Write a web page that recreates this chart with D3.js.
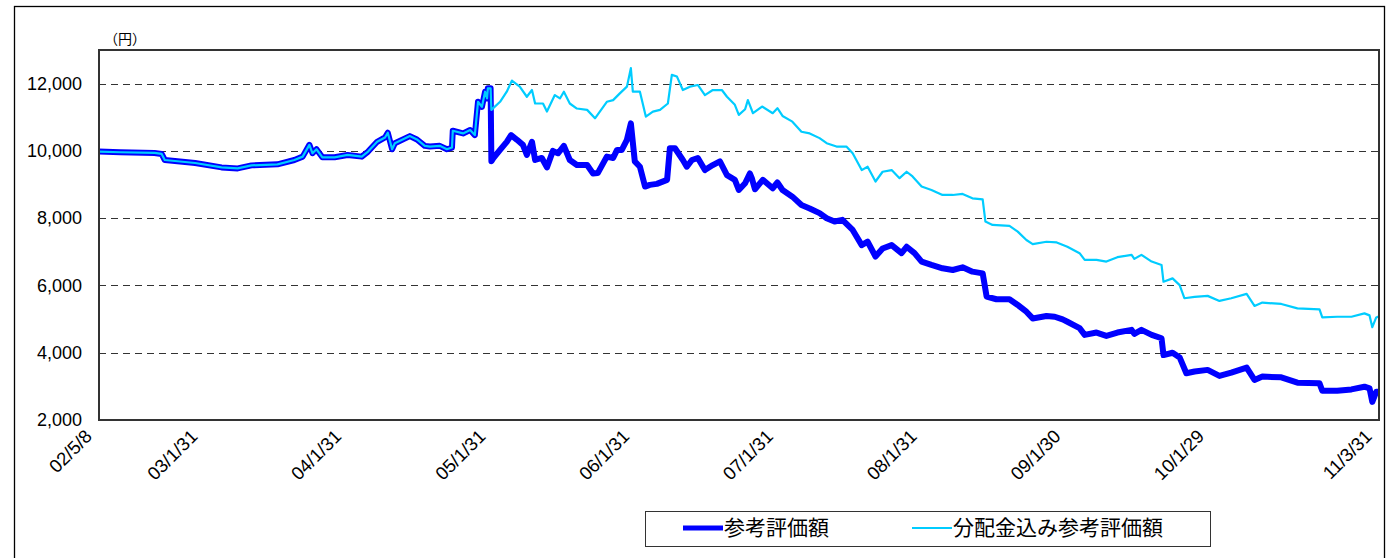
<!DOCTYPE html>
<html>
<head>
<meta charset="utf-8">
<script src="https://cdn.jsdelivr.net/npm/d3@7"></script>
<style>
  body { margin: 0; background: #fff; }
  svg { display: block; }
</style>
</head>
<body>
<div id="chart"></div>
<script>
// common part, both series identical until the first distribution (end of Jan 2005)
const sharedDates = ["2002-05-08","2002-07-01","2002-09-26","2002-10-14","2002-10-22","2003-01-07","2003-03-15","2003-04-25","2003-05-30","2003-08-04","2003-09-16","2003-10-07","2003-10-24","2003-11-01","2003-11-11","2003-11-26","2003-12-27","2004-01-29","2004-03-05","2004-03-21","2004-04-13","2004-05-03","2004-05-10","2004-05-21","2004-05-28","2004-07-05","2004-07-23","2004-08-12","2004-08-25","2004-09-19","2004-10-07","2004-10-20","2004-10-22","2004-11-17","2004-12-05","2004-12-17","2004-12-25","2005-01-04","2005-01-12","2005-01-17","2005-01-19","2005-01-26"];
const sharedValues = [9980,9960,9940,9910,9730,9640,9510,9480,9570,9600,9730,9830,10180,9930,10050,9810,9810,9880,9830,9980,10270,10400,10540,10050,10230,10440,10340,10150,10130,10150,10050,10100,10600,10520,10620,10470,11460,11310,11760,11560,11860,11860];

// 参考評価額
const navDates = ["2005-01-28","2005-02-01","2005-02-19","2005-03-08","2005-03-19","2005-04-03","2005-04-18","2005-04-28","2005-05-11","2005-05-19","2005-06-05","2005-06-18","2005-07-03","2005-07-16","2005-07-31","2005-08-15","2005-09-02","2005-09-28","2005-10-13","2005-10-25","2005-11-17","2005-12-03","2005-12-13","2005-12-25","2006-01-07","2006-01-17","2006-01-27","2006-02-09","2006-02-22","2006-03-06","2006-03-24","2006-04-19","2006-04-26","2006-05-09","2006-05-29","2006-06-08","2006-06-21","2006-07-06","2006-07-24","2006-08-13","2006-08-31","2006-09-18","2006-10-08","2006-10-18","2006-11-03","2006-11-15","2006-11-20","2006-11-28","2006-12-18","2007-01-12","2007-01-24","2007-02-06","2007-03-03","2007-03-26","2007-04-16","2007-05-11","2007-05-29","2007-06-18","2007-07-08","2007-08-03","2007-08-26","2007-09-10","2007-09-30","2007-10-18","2007-11-10","2007-12-05","2007-12-18","2008-01-07","2008-01-25","2008-02-19","2008-03-18","2008-04-13","2008-05-08","2008-06-02","2008-06-28","2008-07-08","2008-08-02","2008-09-04","2008-09-25","2008-10-17","2008-11-02","2008-12-07","2008-12-28","2009-01-17","2009-01-29","2009-03-01","2009-03-14","2009-04-13","2009-05-08","2009-06-05","2009-07-11","2009-07-18","2009-08-05","2009-08-31","2009-09-25","2009-09-30","2009-10-23","2009-11-10","2009-11-27","2009-12-18","2010-01-20","2010-02-19","2010-03-21","2010-04-29","2010-05-19","2010-06-08","2010-07-26","2010-09-05","2010-10-31","2010-11-07","2010-12-15","2011-01-20","2011-02-22","2011-03-07","2011-03-14","2011-03-24","2011-03-31"];
const navValues = [9690,9770,10030,10270,10470,10330,10180,9880,10270,9730,9790,9510,10000,9930,10150,9730,9580,9580,9330,9340,9830,9790,10030,10030,10330,10820,9690,9530,8940,8990,9020,9140,10080,10080,9730,9530,9730,9790,9430,9580,9690,9280,9140,8840,9040,9330,9190,8860,9140,8890,9060,8840,8640,8390,8290,8150,8000,7900,7950,7650,7200,7300,6860,7100,7200,6960,7150,6960,6710,6610,6510,6460,6540,6410,6360,5670,5590,5590,5420,5220,5020,5090,5070,4990,4920,4730,4530,4600,4500,4600,4680,4560,4680,4530,4430,3930,4000,3860,3390,3440,3490,3310,3410,3560,3190,3290,3270,3110,3090,2870,2870,2910,2990,2940,2540,2840,2840];

// 分配金込み参考評価額
const totalDates = ["2005-01-28","2005-02-19","2005-03-08","2005-03-21","2005-04-10","2005-04-28","2005-05-11","2005-05-19","2005-06-08","2005-06-18","2005-07-08","2005-07-21","2005-07-31","2005-08-15","2005-09-02","2005-09-28","2005-10-18","2005-11-17","2005-12-03","2005-12-20","2006-01-07","2006-01-17","2006-01-22","2006-02-09","2006-02-24","2006-03-14","2006-04-01","2006-04-21","2006-05-01","2006-05-14","2006-05-29","2006-06-16","2006-07-06","2006-07-24","2006-08-13","2006-09-05","2006-09-18","2006-10-08","2006-10-18","2006-11-03","2006-11-10","2006-11-23","2006-12-16","2007-01-12","2007-01-24","2007-02-06","2007-03-03","2007-03-26","2007-04-16","2007-05-11","2007-05-29","2007-06-23","2007-07-18","2007-08-03","2007-08-26","2007-09-10","2007-09-30","2007-10-18","2007-11-10","2007-11-30","2007-12-18","2008-01-02","2008-01-25","2008-02-19","2008-03-18","2008-04-13","2008-05-08","2008-06-02","2008-06-28","2008-07-05","2008-07-23","2008-09-04","2008-09-25","2008-10-17","2008-11-02","2008-12-07","2009-01-02","2009-01-29","2009-03-01","2009-03-14","2009-04-13","2009-05-08","2009-06-05","2009-07-11","2009-07-18","2009-08-05","2009-08-31","2009-09-25","2009-09-30","2009-10-23","2009-11-10","2009-11-22","2009-12-18","2010-01-20","2010-02-19","2010-03-21","2010-04-29","2010-05-19","2010-06-08","2010-07-26","2010-09-05","2010-10-31","2010-11-07","2010-12-15","2011-01-20","2011-02-22","2011-03-07","2011-03-14","2011-03-24","2011-03-31"];
const totalValues = [11220,11460,11760,12090,11910,11610,11810,11410,11410,11170,11660,11560,11760,11410,11260,11220,10970,11460,11510,11710,11910,12460,11760,11760,11020,11170,11220,11410,12260,12210,11810,11910,11960,11660,11810,11810,11610,11370,11070,11240,11510,11120,11320,11120,11270,11040,10870,10570,10520,10380,10230,10130,10130,9930,9430,9530,9090,9380,9430,9190,9380,9240,8940,8840,8690,8690,8720,8590,8560,7900,7800,7770,7600,7350,7230,7300,7280,7150,6960,6760,6760,6710,6840,6910,6790,6910,6710,6610,6110,6210,6010,5620,5660,5690,5540,5620,5750,5390,5490,5450,5320,5290,5050,5070,5070,5170,5110,4760,5050,5080];

const seriesNames = ["参考評価額", "分配金込み参考評価額"];
const tickDates = ["2002-05-08","2003-01-31","2004-01-31","2005-01-31","2006-01-31","2007-01-31","2008-01-31","2009-01-30","2010-01-29","2011-03-31"];
const tickLabels = ["02/5/8","03/1/31","04/1/31","05/1/31","06/1/31","07/1/31","08/1/31","09/1/30","10/1/29","11/3/31"];
const yTicks = [2000, 4000, 6000, 8000, 10000, 12000];

const W = 1389, H = 558;
const plot = {left: 99, top: 50, right: 1379, bottom: 420};
const parse = d3.timeParse("%Y-%m-%d");

const svg = d3.select("#chart").append("svg")
    .attr("width", W)
    .attr("height", H);

var x = d3.scaleTime()
    .domain([parse("2002-05-08"), parse("2011-03-31")])
    .range([plot.left, plot.right]);
var y = d3.scaleLinear()
    .domain([2000, 13000])
    .range([plot.bottom, plot.top]);

function rows(dates, values) {
  return dates.map((d, i) => ({date: parse(d), value: values[i]}));
}
const shared = rows(sharedDates, sharedValues);
const navData = shared.concat(rows(navDates, navValues));
const totalData = shared.concat(rows(totalDates, totalValues));

// outer frame
svg.append("rect")
    .attr("x", 14.5).attr("y", 6.5)
    .attr("width", 1370).attr("height", 600)
    .attr("fill", "none")
    .attr("stroke", "#000")
    .attr("stroke-width", 1.3);

// grid
svg.append("g")
  .selectAll("line")
  .data(yTicks.filter(v => v > 2000))
  .join("line")
    .attr("x1", plot.left).attr("x2", plot.right)
    .attr("y1", d => Math.round(y(d)) + 0.5)
    .attr("y2", d => Math.round(y(d)) + 0.5)
    .attr("stroke", "#333")
    .attr("stroke-dasharray", "7,5");

// y axis labels
var yAxis = svg.append("g")
    .attr("transform", "translate(" + plot.left + ",0)")
    .call(d3.axisLeft(y).tickValues(yTicks).tickSize(0).tickPadding(17)
      .tickFormat(d3.format(",")));
yAxis.select(".domain").remove();
yAxis.selectAll("text")
    .attr("font-family", "Liberation Sans, Arial, sans-serif")
    .attr("font-size", 18)
    .attr("fill", "#000");

// x axis labels, rotated
var xAxis = svg.append("g")
    .attr("transform", "translate(0," + plot.bottom + ")")
    .call(d3.axisBottom(x).tickValues(tickDates.map(parse)).tickSize(0)
      .tickFormat((d, i) => tickLabels[i]));
xAxis.select(".domain").remove();
xAxis.selectAll("text")
    .attr("font-family", "Liberation Sans, Arial, sans-serif")
    .attr("font-size", 18.5)
    .attr("fill", "#000")
    .attr("x", 0).attr("y", 0).attr("dy", "0.35em")
    .attr("text-anchor", "end")
    .attr("transform", "translate(-11,13) rotate(-45)");

// unit
svg.append("text")
    .attr("x", 104).attr("y", 44)
    .attr("font-family", "Noto Sans CJK JP, sans-serif")
    .attr("font-size", 14)
    .text("（円）");

// lines
var line = d3.line()
    .x(d => x(d.date))
    .y(d => y(d.value));

svg.append("path")
    .datum(navData)
    .attr("fill", "none")
    .attr("stroke", "#0000ff")
    .attr("stroke-width", 6)
    .attr("stroke-linejoin", "round")
    .attr("d", line);

svg.append("path")
    .datum(totalData)
    .attr("fill", "none")
    .attr("stroke", "#00ccff")
    .attr("stroke-width", 2.2)
    .attr("stroke-linejoin", "round")
    .attr("d", line);

// plot frame
svg.append("rect")
    .attr("x", plot.left).attr("y", plot.top)
    .attr("width", plot.right - plot.left)
    .attr("height", plot.bottom - plot.top)
    .attr("fill", "none")
    .attr("stroke", "#333")
    .attr("stroke-width", 2);

// legend
var legend = svg.append("g");
legend.append("rect")
    .attr("x", 645.5).attr("y", 511.5)
    .attr("width", 565).attr("height", 35)
    .attr("fill", "#fff")
    .attr("stroke", "#333");

const legendItems = [
  {name: seriesNames[0], color: "#0000ff", width: 5, x: 683},
  {name: seriesNames[1], color: "#00ccff", width: 1.8, x: 912}
];
legend.selectAll("line")
  .data(legendItems)
  .join("line")
    .attr("x1", d => d.x).attr("x2", d => d.x + 40)
    .attr("y1", 528).attr("y2", 528)
    .attr("stroke", d => d.color)
    .attr("stroke-width", d => d.width);
legend.selectAll("text")
  .data(legendItems)
  .join("text")
    .attr("x", d => d.x + 41)
    .attr("y", 535)
    .attr("font-family", "Noto Sans CJK JP, sans-serif")
    .attr("font-size", 21)
    .text(d => d.name);
</script>
</body>
</html>
